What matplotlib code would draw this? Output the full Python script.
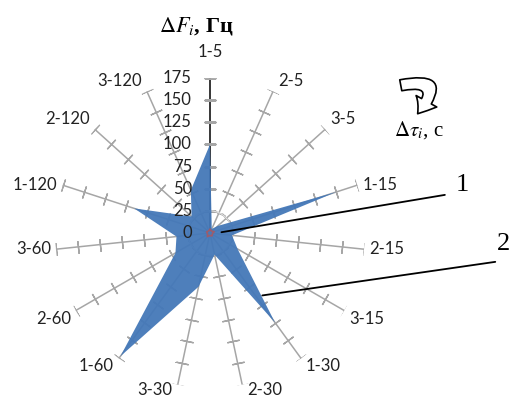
import numpy as np
import matplotlib
matplotlib.use('Agg')
import matplotlib.pyplot as plt
from matplotlib import transforms
from matplotlib.markers import MarkerStyle
from matplotlib.patches import FancyArrowPatch

# категории: номер опыта - интервал времени
categories = ['1-5', '2-5', '3-5', '1-15', '2-15', '3-15', '1-30', '2-30', '3-30',
              '1-60', '2-60', '3-60', '1-120', '2-120', '3-120']
# серия 2 - отклонение частоты, Гц
series2 = [100, 5, 12, 150, 25, 36, 125, 25, 62, 172, 45, 38, 90, 28, 53]
# серия 1 - почти нулевая
series1 = [4, 3, 3, 5, 3, 3, 4, 3, 3, 5, 3, 3, 4, 3, 3]
r_ticks = [0, 25, 50, 75, 100, 125, 150, 175]

plt.rcParams['mathtext.fontset'] = 'stix'

fig = plt.figure(figsize=(5.09, 4.01), dpi=100)
ax = fig.add_axes([0.108, 0.0324, 0.609, 0.773], projection='polar')
ax.set_theta_zero_location('N')
ax.set_theta_direction(-1)
ax.set_ylim(0, 175)
ax.axis('off')

n = len(categories)
theta = np.deg2rad(np.arange(n) * 360.0 / n)

# оси с засечками
for i, t in enumerate(theta):
    col = 'black' if i == 0 else '#A6A6A6'
    ax.plot([t, t], [0, 175], color=col, lw=1.1, zorder=1)
    ang = 90 - np.rad2deg(t)
    ax.plot([t] * 7, r_ticks[1:], linestyle='none', color='#A6A6A6',
            marker=MarkerStyle((2, 2, ang)), markersize=9, markeredgewidth=1.0, zorder=1)

# слабая окружность на уровне 25
tt = np.linspace(0, 2 * np.pi, 200)
ax.plot(tt, [25] * len(tt), color='#E0E0E0', lw=0.8, zorder=1)

# стрелка на верхней оси
ax.annotate('', xy=(0, 180), xytext=(0, 120),
            arrowprops=dict(arrowstyle='-|>', color='black', lw=1.2, mutation_scale=14), zorder=4)

# серии
th_closed = np.append(theta, theta[0])
ax.fill(th_closed, series2 + series2[:1], color='#4478B8', alpha=0.95, lw=0, zorder=2)
ax.plot(th_closed, series1 + series1[:1], color='#C0504D', lw=1.2, alpha=0.7, zorder=3)

# подписи категорий
for i, (t, lab) in enumerate(zip(theta, categories)):
    s, c = np.sin(t), np.cos(t)
    ha = 'left' if s > 0.05 else ('right' if s < -0.05 else 'center')
    va = 'bottom' if c > 0.45 else ('top' if c < -0.45 else 'center')
    dx = 5 * np.sign(s) if abs(s) > 0.05 else 0
    dy = 2 if c > 0.45 else 0
    if i == 0:
        dy = 18
    if c < -0.9:
        dy = 3
    tr = transforms.offset_copy(ax.transData, fig=fig, x=dx, y=dy, units='dots')
    ax.text(t, 175, lab, transform=tr, ha=ha, va=va, fontsize=12,
            family='Lato', color='#222222', clip_on=False)

# значения шкалы
tr = transforms.offset_copy(ax.transData, fig=fig, x=-18, y=0, units='dots')
for v in r_ticks:
    ax.text(0, v, str(v), transform=tr, ha='right', va='center', fontsize=12,
            family='Lato', color='#222222', clip_on=False)

# заголовки осей
fig.text(0.385, 0.935, r'$\Delta F_i$, Гц', fontsize=16, family='Liberation Serif',
         fontweight='bold', ha='center', va='center')
fig.text(0.822, 0.676, r'$\Delta\tau_i$, с', fontsize=15, family='Liberation Serif',
         ha='center', va='center')

# круговая стрелка направления
arr = FancyArrowPatch((0.782, 0.786), (0.817, 0.711), transform=fig.transFigure,
                      connectionstyle='arc3,rad=-1.45',
                      arrowstyle='simple,head_width=17,head_length=11,tail_width=8',
                      facecolor='white', edgecolor='black', lw=1.2)
fig.patches.append(arr)

# выноски серий
ax.annotate('', xy=(np.deg2rad(86), 13), xycoords='data',
            xytext=(0.874, 0.514), textcoords='figure fraction',
            arrowprops=dict(arrowstyle='-', color='black', lw=1.3, shrinkA=0, shrinkB=0))
ax.annotate('', xy=(np.deg2rad(140), 92), xycoords='data',
            xytext=(0.973, 0.347), textcoords='figure fraction',
            arrowprops=dict(arrowstyle='-', color='black', lw=1.3, shrinkA=0, shrinkB=0))
fig.text(0.908, 0.538, '1', fontsize=19, family='Liberation Serif', ha='center', va='center')
fig.text(0.99, 0.392, '2', fontsize=19, family='Liberation Serif', ha='center', va='center')

fig.savefig('out.png', dpi=100)
